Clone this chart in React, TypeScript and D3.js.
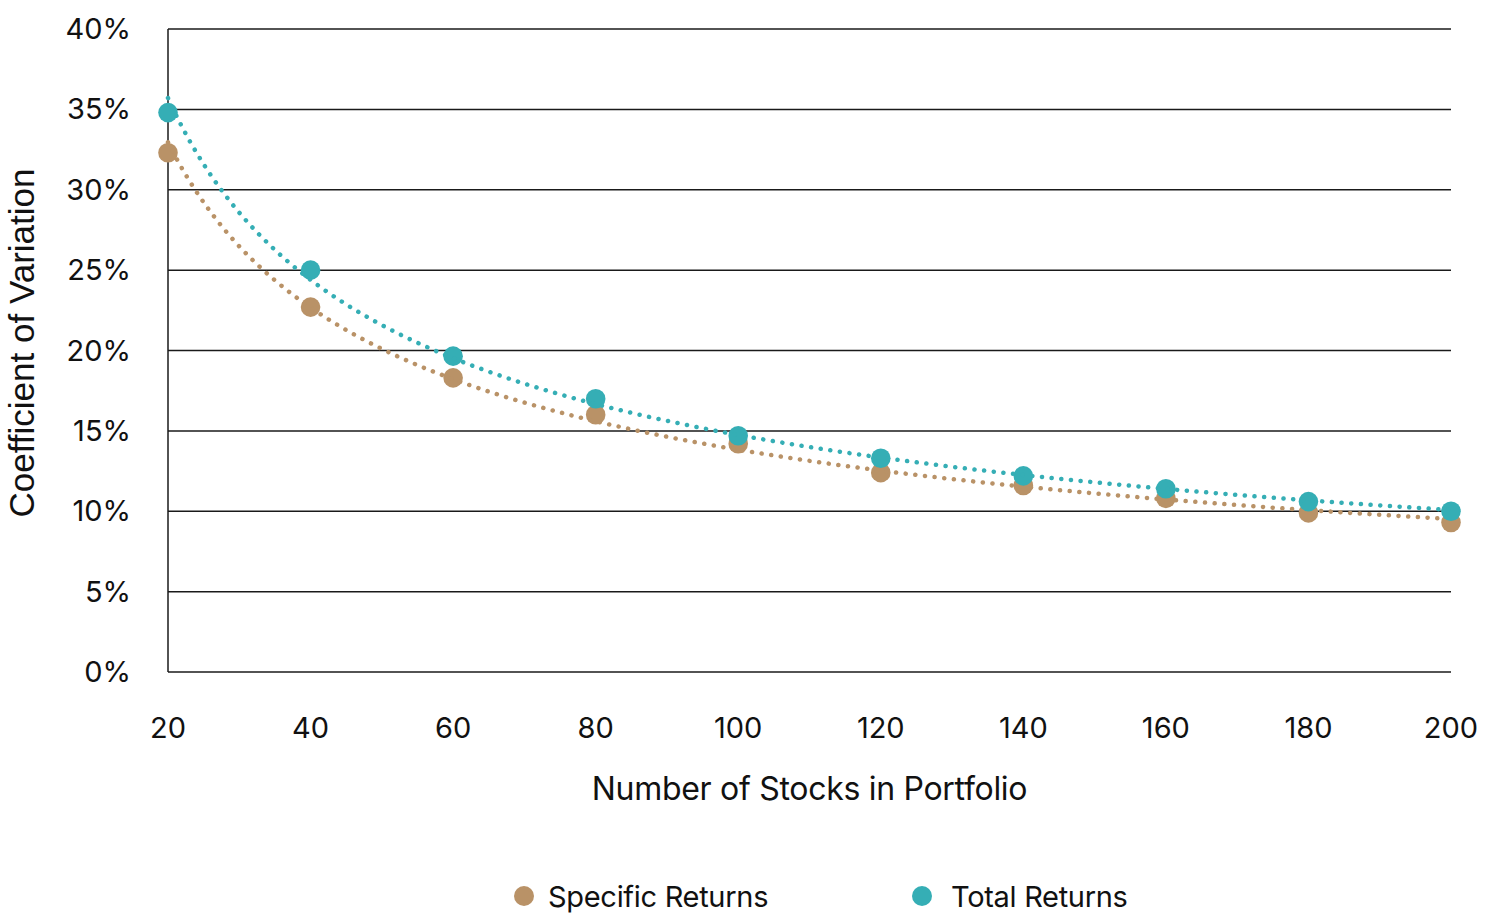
import { useEffect, useRef } from 'react';
import * as d3 from 'd3';

// Portfolio size (x) and coefficient of variation (%) per series
const stockCounts = [20, 40, 60, 80, 100, 120, 140, 160, 180, 200];
const specificReturns = [32.3, 22.7, 18.3, 16.0, 14.2, 12.4, 11.6, 10.8, 9.9, 9.3];
const totalReturns = [34.8, 25.0, 19.65, 17.0, 14.7, 13.3, 12.2, 11.4, 10.6, 10.0];
const yTicks = [0, 5, 10, 15, 20, 25, 30, 35, 40];
const seriesNames = ['Specific Returns', 'Total Returns'];
const seriesColors = ['#B99267', '#35AEB5'];

// least squares fit of y = a * x^b in log space (Excel "power" trendline)
function powerFit(xs: number[], ys: number[]) {
  const lx = xs.map(Math.log);
  const ly = ys.map(Math.log);
  const mx = d3.mean(lx)!;
  const my = d3.mean(ly)!;
  const b = d3.sum(lx, (v, i) => (v - mx) * (ly[i] - my)) / d3.sum(lx, v => (v - mx) ** 2);
  const a = Math.exp(my - b * mx);
  return (x: number) => a * Math.pow(x, b);
}

export default function App() {
  const svgRef = useRef<SVGSVGElement>(null);

  useEffect(() => {
    if (!svgRef.current) return;
    const svg = d3.select(svgRef.current);
    svg.selectAll('*').remove();

    const margin = { top: 29, right: 49, bottom: 250, left: 168 };
    const width = 1500 - margin.left - margin.right;
    const height = 922 - margin.top - margin.bottom;
    const font = 'Inter, "Noto Sans", sans-serif';

    const x = d3.scaleLinear().domain([20, 200]).range([0, width]);
    const y = d3.scaleLinear().domain([0, 40]).range([height, 0]);

    const g = svg.append('g').attr('transform', `translate(${margin.left},${margin.top})`);

    // Horizontal gridlines
    g.append('g')
      .selectAll('line')
      .data(yTicks)
      .enter()
      .append('line')
      .attr('x1', 0)
      .attr('x2', width)
      .attr('y1', d => y(d))
      .attr('y2', d => y(d))
      .attr('stroke', '#1a1a1a')
      .attr('stroke-width', 1.5);

    // Left axis line
    g.append('line')
      .attr('x1', 0).attr('x2', 0)
      .attr('y1', 0).attr('y2', height)
      .attr('stroke', '#1a1a1a')
      .attr('stroke-width', 1.5);

    // Y tick labels
    g.selectAll('.ytick')
      .data(yTicks)
      .enter()
      .append('text')
      .attr('class', 'ytick')
      .attr('x', -37)
      .attr('y', d => y(d) + 10)
      .attr('text-anchor', 'end')
      .style('font-family', font)
      .style('font-size', '29px')
      .attr('fill', '#111')
      .text(d => `${d}%`);

    // X tick labels
    g.selectAll('.xtick')
      .data(stockCounts)
      .enter()
      .append('text')
      .attr('class', 'xtick')
      .attr('x', d => x(d))
      .attr('y', height + 66)
      .attr('text-anchor', 'middle')
      .style('font-family', font)
      .style('font-size', '29px')
      .attr('fill', '#111')
      .text(d => d);

    // Axis titles
    g.append('text')
      .attr('x', width / 2)
      .attr('y', height + 128)
      .attr('text-anchor', 'middle')
      .style('font-family', font)
      .style('font-size', '32px')
      .style('letter-spacing', '-0.3px')
      .attr('fill', '#111')
      .text('Number of Stocks in Portfolio');

    svg.append('text')
      .attr('transform', `translate(34,${margin.top + 314}) rotate(-90)`)
      .attr('text-anchor', 'middle')
      .style('font-family', '"Liberation Sans", Arial, sans-serif')
      .style('font-size', '35px')
      .attr('fill', '#111')
      .text('Coefficient of Variation');

    const seriesData = [specificReturns, totalReturns];

    seriesData.forEach((values, si) => {
      const color = seriesColors[si];
      const points = stockCounts.map((c, i) => ({ c, v: values[i] }));

      // Markers
      g.selectAll(`.pt-${si}`)
        .data(points)
        .enter()
        .append('circle')
        .attr('class', `pt-${si}`)
        .attr('cx', d => x(d.c))
        .attr('cy', d => y(d.v))
        .attr('r', 9.8)
        .attr('fill', color);

      // Dotted power trendline
      const fit = powerFit(stockCounts, values);
      const xs = d3.range(20, 200.001, 1);
      const line = d3.line<number>()
        .x(d => x(d))
        .y(d => y(fit(d)));
      g.append('path')
        .datum(xs)
        .attr('d', line)
        .attr('fill', 'none')
        .attr('stroke', color)
        .attr('stroke-width', 4.5)
        .attr('stroke-linecap', 'round')
        .attr('stroke-dasharray', '0.1 9.6');
    });

    // Legend
    const legendItems = [
      { cx: 524, tx: 548, label: seriesNames[0], fill: seriesColors[0] },
      { cx: 922, tx: 951, label: seriesNames[1], fill: seriesColors[1] },
    ];
    legendItems.forEach(item => {
      svg.append('circle')
        .attr('cx', item.cx).attr('cy', 896).attr('r', 10)
        .attr('fill', item.fill);
      svg.append('text')
        .attr('x', item.tx).attr('y', 907)
        .style('font-family', font)
        .style('font-size', '29px')
        .style('letter-spacing', '-0.3px')
        .attr('fill', '#111')
        .text(item.label);
    });
  }, []);

  return (
    <svg
      ref={svgRef}
      width={1500}
      height={922}
      style={{ position: 'absolute', left: 0, top: 0, background: '#fff' }}
    />
  );
}
